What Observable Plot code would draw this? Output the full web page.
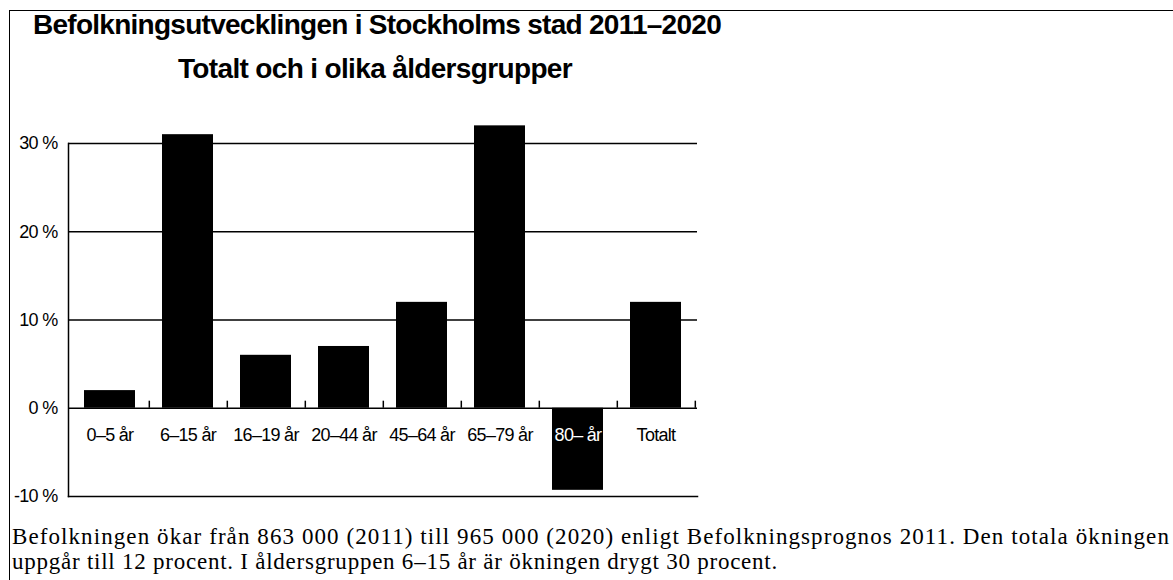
<!DOCTYPE html>
<html>
<head>
<meta charset="utf-8">
<script src="https://cdn.jsdelivr.net/npm/d3@7"></script>
<script src="https://cdn.jsdelivr.net/npm/@observablehq/plot@0.6"></script>
<style>
  html, body { margin: 0; padding: 0; background: #fff; }
  #page { position: relative; width: 1173px; height: 580px; overflow: hidden; }
  #border { position: absolute; left: 9px; top: 10px; width: 1170px; height: 580px;
            border-left: 1.5px solid #000; border-top: 1.5px solid #000; }
  .title { position: absolute; font-family: "Liberation Sans", Arial, sans-serif; font-weight: bold;
           font-size: 28px; white-space: nowrap; color: #000; line-height: 1; }
  .cap { position: absolute; left: 12px; font-family: "Liberation Serif", "Times New Roman", serif;
         font-size: 23px; white-space: nowrap; color: #000; line-height: 1; }
  #chart { position: absolute; left: 0; top: 100px; }
</style>
</head>
<body>
<div id="page">
  <div id="border"></div>
  <div class="title" id="t1" data-w="688" style="left:33px; top:11px;">Befolkningsutvecklingen i Stockholms stad 2011–2020</div>
  <div class="title" id="t2" data-w="394" style="left:178px; top:55px;">Totalt och i olika åldersgrupper</div>
  <div id="chart"></div>
  <div class="cap" id="c1" data-w="1158" style="top:525px;">Befolkningen ökar från 863 000 (2011) till 965 000 (2020) enligt Befolkningsprognos 2011. Den totala ökningen</div>
  <div class="cap" id="c2" data-w="766" style="top:550px;">uppgår till 12 procent. I åldersgruppen 6–15 år är ökningen drygt 30 procent.</div>
</div>
<script>
const categories = ["0–5 år", "6–15 år", "16–19 år", "20–44 år", "45–64 år", "65–79 år", "80– år", "Totalt"];
const values = [2, 31, 6, 7, 12, 32, -9.3, 12];
const yTicks = [-10, 0, 10, 20, 30];
const gridValues = [0, 10, 20, 30];

const data = categories.map((c, i) => ({ group: c, value: values[i] }));

const W = 720, ML = 68, MR = 23;
const step = (W - ML - MR) / categories.length;
const FS = 18;

const chart = Plot.plot({
  width: W,
  height: 420,
  marginLeft: ML,
  marginRight: MR,
  marginTop: 43,
  marginBottom: 24,
  style: { fontFamily: "'Liberation Sans', Arial, sans-serif", fontSize: FS + "px", letterSpacing: "-0.7px", color: "#000", background: "transparent" },
  x: { domain: categories, paddingInner: 0.345, paddingOuter: 0.1725, axis: null },
  y: { domain: [-10, 30] },
  marks: [
    Plot.ruleY(gridValues, { stroke: "#000", strokeWidth: 1.5 }),
    Plot.frame({ anchor: "left", stroke: "#000", strokeWidth: 1.5 }),
    Plot.frame({ anchor: "bottom", stroke: "#000", strokeWidth: 1.5 }),
    Plot.barY(data, { x: "group", y: "value", fill: "#000" }),
    Plot.ruleX(categories, { x: d => d, y1: 0, y2: 0.8, dx: step / 2, stroke: "#000", strokeWidth: 1.5 }),
    Plot.axisY({ ticks: yTicks, tickFormat: d => d + " %", tickSize: 0, tickPadding: 11, label: null, fontSize: FS }),
    Plot.text(data, { x: "group", y: 0, text: "group", dy: 27, fontSize: FS, fill: d => d.value < 0 ? "#fff" : "#000", lineAnchor: "middle" })
  ]
});
document.getElementById("chart").appendChild(chart);

// fit text widths to the reference line widths
document.querySelectorAll("[data-w]").forEach(el => {
  const target = +el.dataset.w;
  const w = el.getBoundingClientRect().width;
  const n = el.textContent.length;
  el.style.letterSpacing = ((target - w) / n) + "px";
});
</script>
</body>
</html>
